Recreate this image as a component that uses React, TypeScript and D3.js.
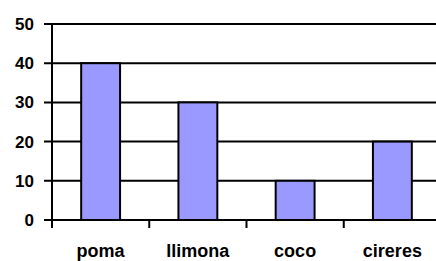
import React from 'react';
import * as d3 from 'd3';

const categories = ['poma', 'llimona', 'coco', 'cireres'];
const values = [40, 30, 10, 20];
const yTicks = [0, 10, 20, 30, 40, 50];

const width = 436;
const height = 261;
const margin = { top: 24, right: -5, bottom: 41, left: 52 };

const App: React.FC = () => {
    const innerWidth = width - margin.left - margin.right;
    const innerHeight = height - margin.top - margin.bottom;

    const xScale = d3.scaleBand<string>()
        .domain(categories)
        .range([0, innerWidth])
        .paddingInner(0.6)
        .paddingOuter(0.3);

    const xOuter = d3.scaleBand<string>()
        .domain(categories)
        .range([0, innerWidth]);

    const yScale = d3.scaleLinear()
        .domain([0, 50])
        .range([innerHeight, 0]);

    const font = '"Liberation Sans", Arial, sans-serif';

    return (
        <svg width={width} height={height} style={{ position: 'absolute', left: 0, top: 0, background: '#fff' }}>
            <g transform={`translate(${margin.left}, ${margin.top})`}>
                {yTicks.map(t => (
                    <g key={t}>
                        <line x1={-8} x2={innerWidth + 10} y1={yScale(t)} y2={yScale(t)} stroke="#000" strokeWidth={2} />
                        <text
                            x={-18}
                            y={yScale(t)}
                            dy="0.35em"
                            textAnchor="end"
                            fontFamily={font}
                            fontWeight="bold"
                            fontSize="17px"
                            fill="#000"
                        >
                            {t}
                        </text>
                    </g>
                ))}

                {categories.map((c, i) => (
                    <rect
                        key={c}
                        x={xScale(c)}
                        y={yScale(values[i])}
                        width={xScale.bandwidth()}
                        height={innerHeight - yScale(values[i])}
                        fill="#9999ff"
                        stroke="#000"
                        strokeWidth={2}
                    />
                ))}

                <line x1={0} x2={0} y1={yScale(50) - 1} y2={innerHeight + 8} stroke="#000" strokeWidth={2} />

                {categories.map(c => (
                    <line
                        key={c}
                        x1={(xOuter(c) || 0) + xOuter.bandwidth()}
                        x2={(xOuter(c) || 0) + xOuter.bandwidth()}
                        y1={innerHeight}
                        y2={innerHeight + 8}
                        stroke="#000"
                        strokeWidth={2}
                    />
                ))}

                {categories.map(c => (
                    <text
                        key={c}
                        x={(xOuter(c) || 0) + xOuter.bandwidth() / 2}
                        y={innerHeight + 37}
                        textAnchor="middle"
                        fontFamily={font}
                        fontWeight="bold"
                        fontSize="18px"
                        fill="#000"
                    >
                        {c}
                    </text>
                ))}
            </g>
        </svg>
    );
};

export default App;
